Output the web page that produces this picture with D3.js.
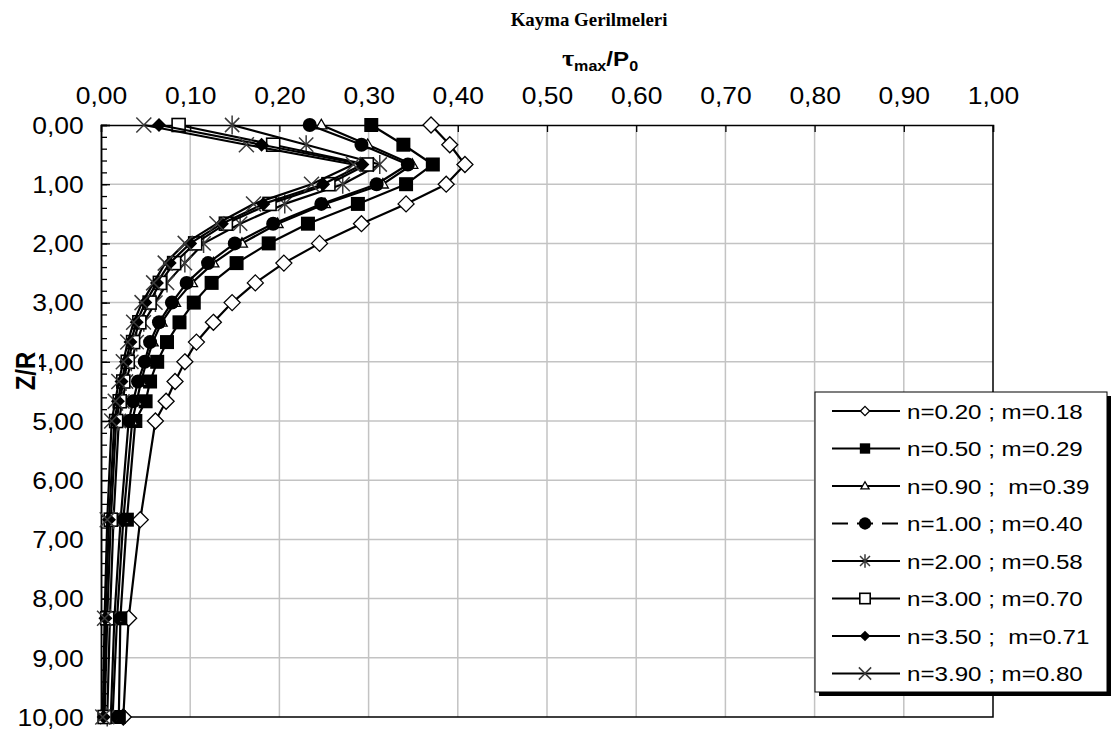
<!DOCTYPE html>
<html>
<head>
<meta charset="utf-8">
<script src="https://cdn.jsdelivr.net/npm/d3@7"></script>
<style>
  html, body { margin: 0; background: #fff; }
  svg { display: block; }
  text { white-space: pre; }
</style>
</head>
<body>
<svg id="chart" width="1117" height="733"></svg>
<script>
// Depth ratio Z/R of the computed points
const depthZR = [0, 0.333, 0.667, 1, 1.333, 1.667, 2, 2.333, 2.667, 3, 3.333, 3.667, 4, 4.333, 4.667, 5, 6.667, 8.333, 10];

// tau_max / P0 for each (n ; m) case
const tauN020 = [0.370, 0.391, 0.408, 0.387, 0.342, 0.292, 0.245, 0.205, 0.173, 0.147, 0.126, 0.107, 0.094, 0.083, 0.073, 0.061, 0.044, 0.031, 0.025];
const tauN050 = [0.303, 0.339, 0.372, 0.342, 0.288, 0.232, 0.188, 0.152, 0.124, 0.104, 0.088, 0.074, 0.063, 0.055, 0.050, 0.0385, 0.029, 0.0217, 0.020];
const tauN090 = [0.247, 0.299, 0.349, 0.316, 0.251, 0.198, 0.158, 0.126, 0.102, 0.083, 0.068, 0.058, 0.051, 0.045, 0.040, 0.035, 0.025, 0.018, 0.013];
const tauN100 = [0.234, 0.292, 0.344, 0.309, 0.247, 0.193, 0.150, 0.120, 0.096, 0.0795, 0.065, 0.055, 0.049, 0.0415, 0.036, 0.031, 0.022, 0.015, 0.011];
const tauN200 = [0.147, 0.230, 0.3125, 0.271, 0.206, 0.156, 0.115, 0.094, 0.074, 0.061, 0.048, 0.040, 0.034, 0.028, 0.024, 0.020, 0.014, 0.010, 0.007];
const tauN300 = [0.087, 0.193, 0.298, 0.255, 0.189, 0.140, 0.1056, 0.082, 0.066, 0.0545, 0.043, 0.036, 0.030, 0.025, 0.021, 0.017, 0.011, 0.007, 0.004];
const tauN350 = [0.065, 0.180, 0.293, 0.249, 0.182, 0.1355, 0.100, 0.077, 0.0627, 0.0497, 0.040, 0.033, 0.028, 0.023, 0.019, 0.015, 0.009, 0.005, 0.003];
const tauN390 = [0.048, 0.163, 0.283, 0.236, 0.171, 0.130, 0.0944, 0.072, 0.059, 0.046, 0.0366, 0.030, 0.025, 0.020, 0.016, 0.012, 0.007, 0.004, 0.002];

const seriesLabels = [
  "n=0.20 ; m=0.18", "n=0.50 ; m=0.29", "n=0.90 ;  m=0.39", "n=1.00 ; m=0.40",
  "n=2.00 ; m=0.58", "n=3.00 ; m=0.70", "n=3.50 ;  m=0.71", "n=3.90 ; m=0.80"
];
const markerKinds = ["diamondOpen", "squareFilled", "triangleOpen", "circleFilled",
                     "asterisk", "squareOpen", "diamondFilled", "cross"];
const seriesValues = [tauN020, tauN050, tauN090, tauN100, tauN200, tauN300, tauN350, tauN390];

const xTickValues = [0, 0.1, 0.2, 0.3, 0.4, 0.5, 0.6, 0.7, 0.8, 0.9, 1.0];
const yTickValues = [0, 1, 2, 3, 4, 5, 6, 7, 8, 9, 10];
const yMinorValues = d3.range(0, 51).map(i => i * 0.2);

const svg = d3.select("#chart");
const x = d3.scaleLinear().domain([0, 1]).range([101, 993]);
const y = d3.scaleLinear().domain([0, 10]).range([125, 717]);
const fmt = v => d3.format(".2f")(v).replace(".", ",");
const SX = 1.15;            // slightly widened lettering
const SANS = "'Liberation Sans', Arial, sans-serif";

// ---- grid ----
const grid = svg.append("g");
grid.selectAll("line.v").data(xTickValues.filter(v => v > 0 && v < 1)).join("line")
  .attr("x1", d => x(d)).attr("x2", d => x(d))
  .attr("y1", y(0)).attr("y2", y(10))
  .attr("stroke", "#c3c3c3").attr("stroke-width", 1.5);
grid.selectAll("line.h").data(yTickValues.filter(v => v > 0 && v < 10)).join("line")
  .attr("x1", x(0)).attr("x2", x(1))
  .attr("y1", d => y(d)).attr("y2", d => y(d))
  .attr("stroke", "#c3c3c3").attr("stroke-width", 1.5);

// plot frame (right and bottom)
svg.append("path")
  .attr("d", `M${x(0)},${y(10)}H${x(1)}V${y(0)}`)
  .attr("fill", "none").attr("stroke", "#000").attr("stroke-width", 1.5);

// ---- axes ----
const topAxis = svg.append("g").attr("transform", `translate(0,${y(0)})`)
  .call(d3.axisTop(x).tickValues(xTickValues).tickSize(-7).tickPadding(21).tickFormat(fmt));
const leftMinor = svg.append("g").attr("transform", `translate(${x(0)},0)`)
  .call(d3.axisLeft(y).tickValues(yMinorValues).tickSize(-6).tickFormat(""));
const leftAxis = svg.append("g").attr("transform", `translate(${x(0)},0)`)
  .call(d3.axisLeft(y).tickValues(yTickValues).tickSize(-9).tickPadding(15).tickFormat(fmt));

[topAxis, leftMinor, leftAxis].forEach(g => {
  g.selectAll("path.domain").attr("stroke", "#000").attr("stroke-width", 1.5);
  g.selectAll(".tick line").attr("stroke", "#000").attr("stroke-width", 1.3);
  g.selectAll("text").attr("font-family", SANS).attr("font-size", 23).attr("fill", "#000")
    .attr("transform", `scale(${SX},1)`);
});
leftMinor.selectAll("text").remove();
leftAxis.selectAll("text").attr("dy", "0.36em");

// ---- titles ----
svg.append("text")
  .attr("transform", `translate(589,26) scale(1.05,1)`)
  .attr("text-anchor", "middle")
  .attr("font-family", "'Liberation Serif', 'Times New Roman', serif")
  .attr("font-weight", "bold").attr("font-size", 18)
  .text("Kayma Gerilmeleri");

const sub = svg.append("text")
  .attr("transform", `translate(600,66) scale(${SX},1)`)
  .attr("text-anchor", "middle")
  .attr("font-family", SANS).attr("font-weight", "bold").attr("font-size", 21);
sub.append("tspan").attr("font-family", "'Liberation Serif', serif").attr("font-size", 23).text("τ");
sub.append("tspan").attr("font-size", 14).attr("dy", 5).text("max");
sub.append("tspan").attr("dy", -5).text("/P");
sub.append("tspan").attr("font-size", 14).attr("dy", 5).text("0");

// vertical axis title with its white backing
svg.append("rect").attr("x", 14).attr("y", 348).attr("width", 25).attr("height", 46).attr("fill", "#fff");
svg.append("text")
  .attr("transform", `translate(35,371) scale(${SX},1) rotate(-90)`)
  .attr("text-anchor", "middle")
  .attr("font-family", SANS).attr("font-weight", "bold").attr("font-size", 24)
  .text("Z/R");

// ---- markers ----
function drawMarker(g, kind, cx, cy, k) {
  const t = `translate(${cx},${cy})`;
  switch (kind) {
    case "diamondOpen": {
      const h = 8 * k;
      g.append("path").attr("transform", t).attr("d", `M0,${-h}L${h},0L0,${h}L${-h},0Z`)
        .attr("fill", "#fff").attr("stroke", "#000").attr("stroke-width", 1.3);
      break;
    }
    case "squareFilled": {
      const a = 14 * k;
      g.append("rect").attr("x", cx - a / 2).attr("y", cy - a / 2).attr("width", a).attr("height", a).attr("fill", "#000");
      break;
    }
    case "triangleOpen": {
      const s = 11 * k, hh = s * 0.866;
      g.append("path").attr("transform", t)
        .attr("d", `M0,${-hh * 0.6}L${s / 2},${hh * 0.4}L${-s / 2},${hh * 0.4}Z`)
        .attr("fill", "#fff").attr("stroke", "#000").attr("stroke-width", 1.3);
      break;
    }
    case "circleFilled":
      g.append("circle").attr("cx", cx).attr("cy", cy).attr("r", 7 * k).attr("fill", "#000");
      break;
    case "asterisk": {
      const h = 9.5 * k, d = h * 0.75;
      g.append("path").attr("transform", t)
        .attr("d", `M0,${-h}V${h}M${-d},${-d}L${d},${d}M${-d},${d}L${d},${-d}`)
        .attr("stroke", "#3a3a3a").attr("stroke-width", 1.5).attr("fill", "none");
      break;
    }
    case "squareOpen": {
      const a = 13 * k;
      g.append("rect").attr("x", cx - a / 2).attr("y", cy - a / 2).attr("width", a).attr("height", a)
        .attr("fill", "#fff").attr("stroke", "#000").attr("stroke-width", 1.6);
      break;
    }
    case "diamondFilled": {
      const h = 7 * k;
      g.append("path").attr("transform", t).attr("d", `M0,${-h}L${h},0L0,${h}L${-h},0Z`).attr("fill", "#000");
      break;
    }
    case "cross": {
      const h = 7.5 * k;
      g.append("path").attr("transform", t)
        .attr("d", `M${-h},${-h}L${h},${h}M${-h},${h}L${h},${-h}`)
        .attr("stroke", "#3a3a3a").attr("stroke-width", 1.5).attr("fill", "none");
      break;
    }
  }
}

// ---- series ----
const line = d3.line().x(d => x(d[1])).y(d => y(d[0]));
const plot = svg.append("g");
seriesValues.forEach((vals, i) => {
  const pts = depthZR.map((z, j) => [z, vals[j]]);
  const g = plot.append("g");
  g.append("path").attr("d", line(pts)).attr("fill", "none")
    .attr("stroke", "#000").attr("stroke-width", 2.2).attr("stroke-linejoin", "round");
  pts.forEach(p => drawMarker(g, markerKinds[i], x(p[1]), y(p[0]), 1));
});

// ---- legend ----
const lg = svg.append("g");
lg.append("rect").attr("x", 819).attr("y", 396).attr("width", 292).attr("height", 300).attr("fill", "#000");
lg.append("rect").attr("x", 815).attr("y", 392).attr("width", 292).attr("height", 300)
  .attr("fill", "#fff").attr("stroke", "#000").attr("stroke-width", 1);
const legendScale = [0.58, 0.74, 0.75, 0.88, 0.7, 0.8, 0.76, 0.82];
seriesLabels.forEach((lab, i) => {
  const cy = 411 + i * 37.5;
  const row = lg.append("g");
  row.append("line").attr("x1", 832).attr("x2", 900).attr("y1", cy).attr("y2", cy)
    .attr("stroke", "#000").attr("stroke-width", 1.8)
    .attr("stroke-dasharray", markerKinds[i] === "circleFilled" ? "16,9" : null);
  drawMarker(row, markerKinds[i], 865, cy, legendScale[i]);
  row.append("text")
    .attr("transform", `translate(907,${cy + 7.5}) scale(${SX},1)`)
    .attr("font-family", SANS).attr("font-size", 21).attr("fill", "#000")
    .text(lab);
});
</script>
</body>
</html>
